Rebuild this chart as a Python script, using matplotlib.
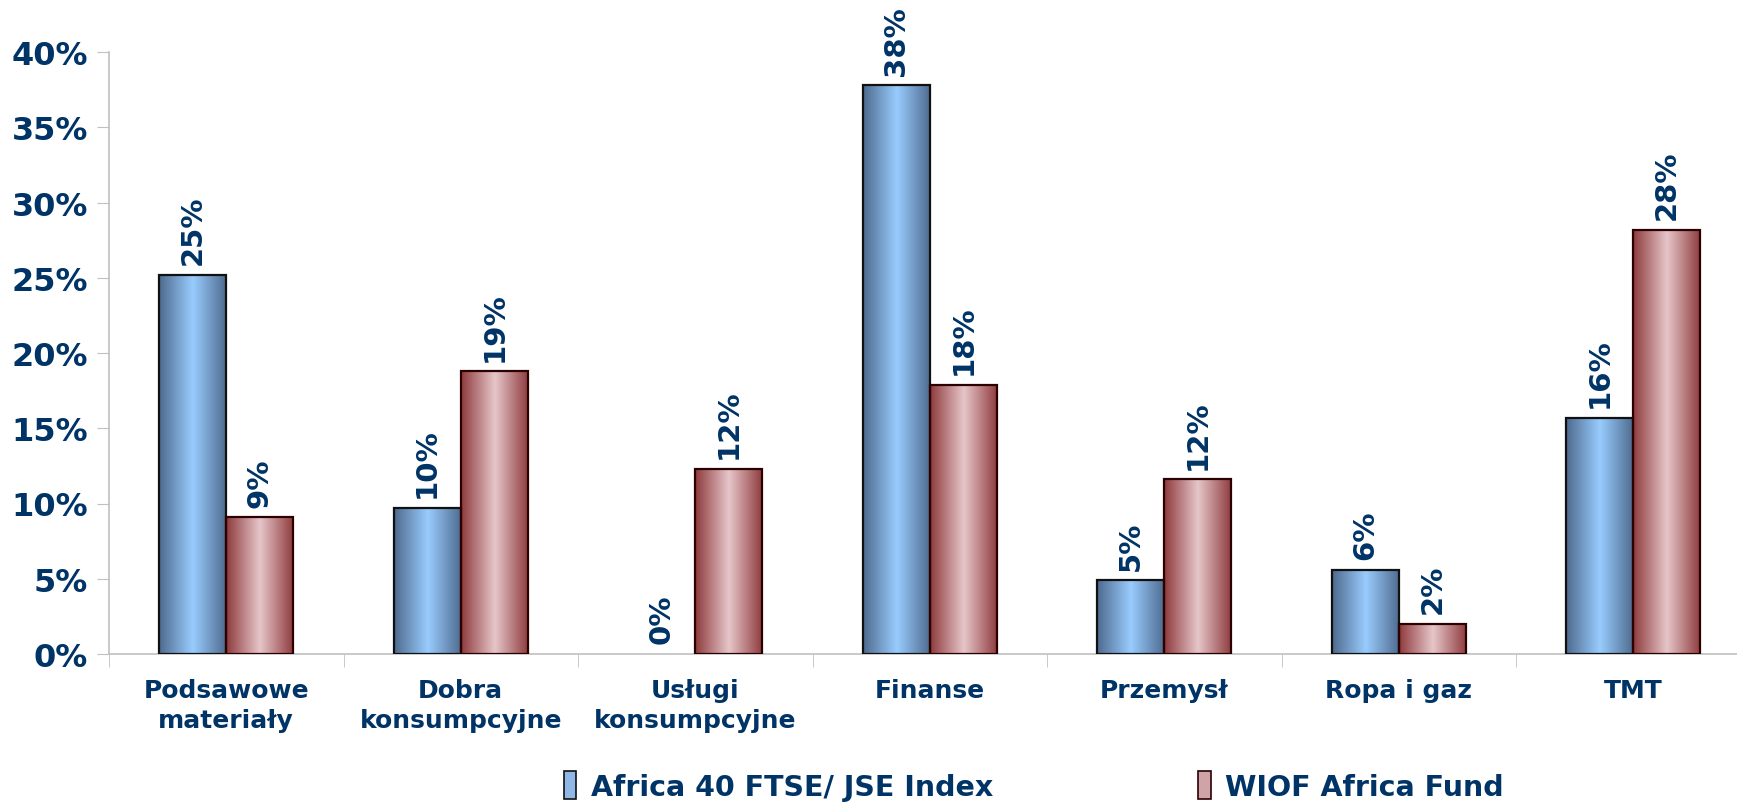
import numpy as np
import matplotlib
matplotlib.use('Agg')
import matplotlib.pyplot as plt
from matplotlib.colors import LinearSegmentedColormap
from matplotlib.patches import Patch

categories = ['Podsawowe\nmateriały', 'Dobra\nkonsumpcyjne', 'Usługi\nkonsumpcyjne',
              'Finanse', 'Przemysł', 'Ropa i gaz', 'TMT']
africa40 = [25.2, 9.7, 0.0, 37.8, 4.9, 5.6, 15.7]
wiof = [9.1, 18.8, 12.3, 17.9, 11.6, 2.0, 28.2]
series_names = ['Africa 40 FTSE/ JSE Index', 'WIOF Africa Fund']
yticks = [0, 5, 10, 15, 20, 25, 30, 35, 40]

navy = '#003366'
plt.rcParams['font.family'] = ['DejaVu Sans']

blue_cmap = LinearSegmentedColormap.from_list('b', ['#4e6a8e', '#99ccff', '#4e6a8e'])
red_cmap = LinearSegmentedColormap.from_list('r', ['#8e3a3c', '#e6c6ca', '#8e3a3c'])
grad = np.linspace(0, 1, 256).reshape(1, -1)

fig = plt.figure(figsize=(17.37, 8.04), dpi=100)
ax = fig.add_axes([109 / 1737, 149 / 804, 1641.5 / 1737, 602 / 804])

x = np.arange(len(categories))
w = 0.286

for vals, off, cmap, ec in [(africa40, -w / 2, blue_cmap, '#111111'),
                            (wiof, w / 2, red_cmap, '#2a0000')]:
    for xi, v in zip(x, vals):
        x0 = xi + off - w / 2
        if v > 0:
            ax.imshow(grad, extent=[x0, x0 + w, 0, v], aspect='auto', cmap=cmap,
                      zorder=2, interpolation='bicubic')
            ax.bar(xi + off, v, w, facecolor='none', edgecolor=ec, linewidth=1.6, zorder=3)
        ax.text(xi + off, v + 0.7, f'{round(v):.0f}%', rotation=90, ha='center', va='bottom',
                fontsize=21, fontweight='bold', color=navy, zorder=4)

ax.set_xlim(-0.5, len(categories) - 0.5)
ax.set_ylim(0, 40)

ax.set_yticks(yticks)
ax.set_yticklabels([f'{t}%' for t in yticks], fontsize=23, fontweight='bold', color=navy)
ax.tick_params(axis='y', length=9, color='#c0c0c0', pad=6)

ax.set_xticks(x)
ax.set_xticklabels(categories, fontsize=18, fontweight='bold', color=navy, linespacing=1.35)
ax.tick_params(axis='x', which='major', length=0, pad=17)
ax.set_xticks(np.arange(-0.5, len(categories)), minor=True)
ax.tick_params(axis='x', which='minor', length=9, color='#c0c0c0')

for s in ['top', 'right']:
    ax.spines[s].set_visible(False)
for s in ['left', 'bottom']:
    ax.spines[s].set_color('#c0c0c0')
    ax.spines[s].set_linewidth(1.2)

handles = [Patch(facecolor='#8fb8e6', edgecolor='#111111', linewidth=1.2),
           Patch(facecolor='#cfa3a8', edgecolor='#2a0000', linewidth=1.2)]
leg = fig.legend(handles, series_names, loc='center', bbox_to_anchor=(0.595, 0.021), ncol=2,
                 frameon=False, handlelength=0.45, handleheight=1.1, handletextpad=0.5,
                 columnspacing=7.2, prop={'size': 20.5, 'weight': 'bold'})
for t in leg.get_texts():
    t.set_color(navy)

fig.savefig('out.png', dpi=100)
